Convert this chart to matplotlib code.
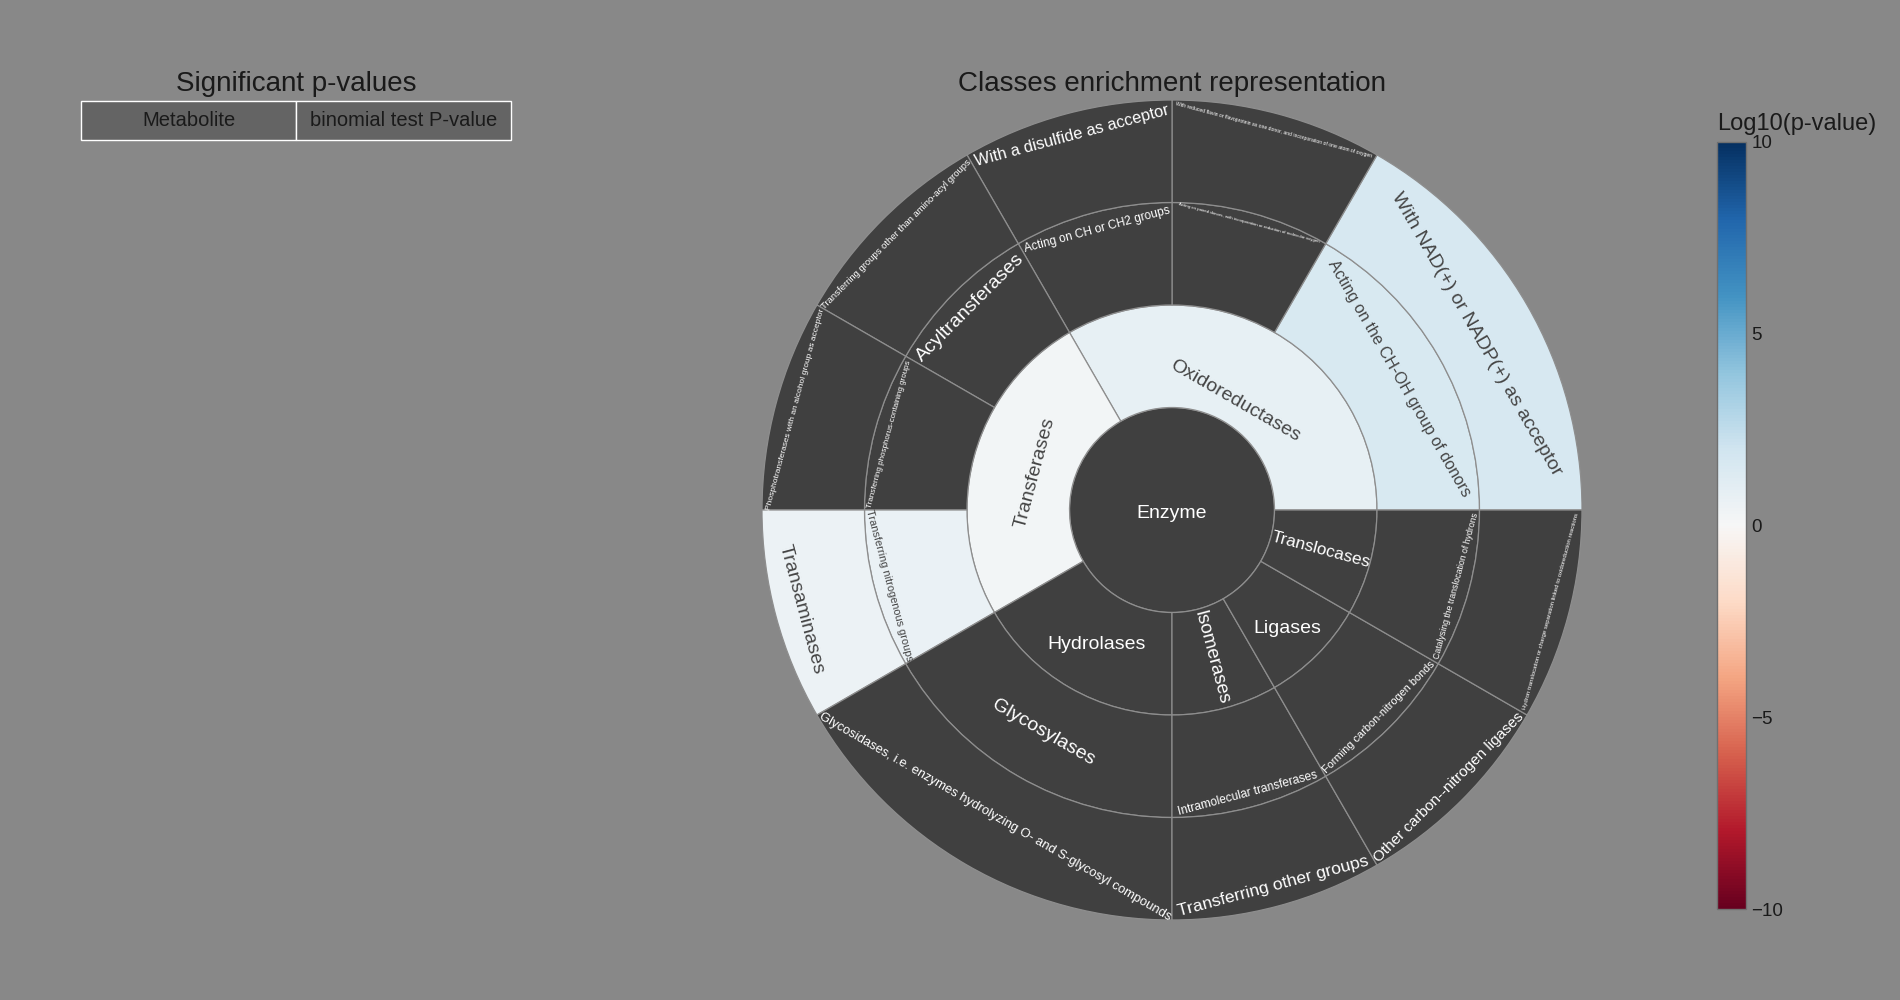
import numpy as np
import matplotlib
matplotlib.use("Agg")
import matplotlib.pyplot as plt
from matplotlib.patches import Wedge, Circle
from matplotlib.colors import Normalize
import matplotlib.colorbar as mcolorbar

plt.rcParams['font.family'] = ['Liberation Sans', 'DejaVu Sans']

nan = np.nan

# ---------------- data ----------------
root_label = "Enzyme"
root_logp = nan

l1_labels = ["Oxidoreductases", "Transferases", "Hydrolases", "Isomerases", "Ligases", "Translocases"]
l1_counts = [4, 3, 2, 1, 1, 1]
l1_logp = [0.8, 0.3, nan, nan, nan, nan]

l2_labels = ["Acting on the CH-OH group of donors",
             "Acting on paired donors, with incorporation or reduction of molecular oxygen",
             "Acting on CH or CH2 groups",
             "Acyltransferases",
             "Transferring phosphorus-containing groups",
             "Transferring nitrogenous groups",
             "Glycosylases",
             "Intramolecular transferases",
             "Forming carbon-nitrogen bonds",
             "Catalysing the translocation of hydrons"]
l2_parents = ["Oxidoreductases", "Oxidoreductases", "Oxidoreductases",
              "Transferases", "Transferases", "Transferases",
              "Hydrolases", "Isomerases", "Ligases", "Translocases"]
l2_counts = [2, 1, 1, 1, 1, 1, 2, 1, 1, 1]
l2_logp = [1.6, nan, nan, nan, nan, 0.7, nan, nan, nan, nan]

l3_labels = ["With NAD(+) or NADP(+) as acceptor",
             "With reduced flavin or flavoprotein as one donor, and incorporation of one atom of oxygen",
             "With a disulfide as acceptor",
             "Transferring groups other than amino-acyl groups",
             "Phosphotransferases with an alcohol group as acceptor",
             "Transaminases",
             "Glycosidases, i.e. enzymes hydrolyzing O- and S-glycosyl compounds",
             "Transferring other groups",
             "Other carbon--nitrogen ligases",
             "Hydron translocation or charge separation linked to oxidoreduction reactions"]
l3_parents = l2_labels
l3_counts = [2, 1, 1, 1, 1, 1, 2, 1, 1, 1]
l3_logp = [1.7, nan, nan, nan, nan, 0.6, nan, nan, nan, nan]

table_columns = ["Metabolite", "binomial test P-value"]
cbar_ticks = [-10, -5, 0, 5, 10]

# ---------------- style ----------------
BG = "#888888"
DARK = "#404040"
EDGE = "#8e8e8e"
TXT_DARK = "#444444"
TXT_LIGHT = "#ffffff"

l1_orient = ["t", "t", "h", "r", "h", "r"]
l1_rpos = [1.23, 1.385, 1.48, 1.49, 1.59, 1.50]
l1_size = [14, 14, 14, 13.5, 14, 12.3]

l2_orient = ["t"] * 10
l2_rpos = [2.56, 2.90, 2.83, 2.79, 2.85, 2.86, 2.51, 2.86, 2.86, 2.87]
l2_size = [11.7, 3.2, 8.6, 14, 5.8, 7.9, 14, 8.6, 7.9, 6.3]

l3_orient = ["t"] * 10
l3_rpos = [3.43, 3.84, 3.78, 3.80, 3.80, 3.74, 3.46, 3.80, 3.82, 3.83]
l3_size = [14, 3.6, 11.8, 6.8, 6.0, 14, 9.4, 12.6, 11.0, 4.3]

cmap = plt.get_cmap("RdBu")
norm = Normalize(vmin=-10, vmax=10)

fig = plt.figure(figsize=(19, 10), dpi=100, facecolor=BG)

# sunburst axes: centre at (1172, 510) px, radius 410 px
W, H = 1900, 1000
cx, cy, R = 1172, 510, 410
ax = fig.add_axes([(cx - R) / W, (H - cy - R) / H, 2 * R / W, 2 * R / H])
ax.set_xlim(-4, 4)
ax.set_ylim(-4, 4)
ax.set_aspect("equal")
ax.axis("off")


def color_of(v):
    return DARK if np.isnan(v) else cmap(norm(v))


def text_color(v):
    return TXT_LIGHT if np.isnan(v) else TXT_DARK


def rot_for(mid, orient):
    if orient == "h":
        return 0
    r = mid - 90 if orient == "t" else mid
    r = (r + 180) % 360 - 180
    if r > 90:
        r -= 180
    elif r <= -90:
        r += 180
    return r


def draw_level(level, labels, counts, logp, orient, rpos, sizes):
    counts = np.asarray(counts, dtype=float)
    total = counts.sum()
    edges = np.concatenate([[0], np.cumsum(counts)]) / total * 360.0
    for i, lab in enumerate(labels):
        t1, t2 = edges[i], edges[i + 1]
        ax.add_patch(Wedge((0, 0), level + 1, t1, t2, width=1.0,
                           facecolor=color_of(logp[i]), edgecolor=EDGE, linewidth=0.9))
        mid = 0.5 * (t1 + t2)
        rr = rpos[i]
        x, y = rr * np.cos(np.radians(mid)), rr * np.sin(np.radians(mid))
        if orient[i] == "h":
            y -= 0.03
        ax.text(x, y, lab, rotation=rot_for(mid, orient[i]), rotation_mode="anchor",
                ha="center", va="center", fontsize=sizes[i], color=text_color(logp[i]))


ax.add_patch(Circle((0, 0), 1.0, facecolor=color_of(root_logp), edgecolor=EDGE, linewidth=0.9))
ax.text(0, -0.03, root_label, ha="center", va="center", fontsize=14, color=text_color(root_logp))
draw_level(1, l1_labels, l1_counts, l1_logp, l1_orient, l1_rpos, l1_size)
draw_level(2, l2_labels, l2_counts, l2_logp, l2_orient, l2_rpos, l2_size)
draw_level(3, l3_labels, l3_counts, l3_logp, l3_orient, l3_rpos, l3_size)

# titles
fig.text(cx / W, 1 - 84 / H, "Classes enrichment representation", ha="center", va="center",
         fontsize=20, color="#1a1a1a")
fig.text(296 / W, 1 - 84 / H, "Significant p-values", ha="center", va="center",
         fontsize=20, color="#1a1a1a")

# table (header row only)
tax = fig.add_axes([81 / W, 1 - 140 / H, 430 / W, 39 / H])
tax.axis("off")
tbl = tax.table(cellText=[table_columns], cellLoc="center", bbox=[0, 0, 1, 1])
tbl.auto_set_font_size(False)
for (r, c), cell in tbl.get_celld().items():
    cell.set_facecolor("#646464")
    cell.set_edgecolor("white")
    cell.set_linewidth(1.0)
    cell.get_text().set_fontsize(14.5)
    cell.get_text().set_color("#1a1a1a")

# colorbar
cax = fig.add_axes([1717 / W, 1 - 909 / H, 29 / W, 767 / H])
cb = mcolorbar.ColorbarBase(cax, cmap=cmap, norm=norm, orientation="vertical")
cb.set_ticks(cbar_ticks)
cb.set_ticklabels([("\u2212%d" % abs(t)) if t < 0 else "%d" % t for t in cbar_ticks])
cax.tick_params(length=0, pad=4, labelsize=13.5, labelcolor="#1a1a1a")
cb.outline.set_edgecolor("#707070")
cb.outline.set_linewidth(1.0)
fig.text(1717 / W, 1 - 124 / H, "Log10(p-value)", ha="left", va="center", fontsize=17,
         color="#1a1a1a")

fig.savefig("out.png", dpi=100, facecolor=BG)
